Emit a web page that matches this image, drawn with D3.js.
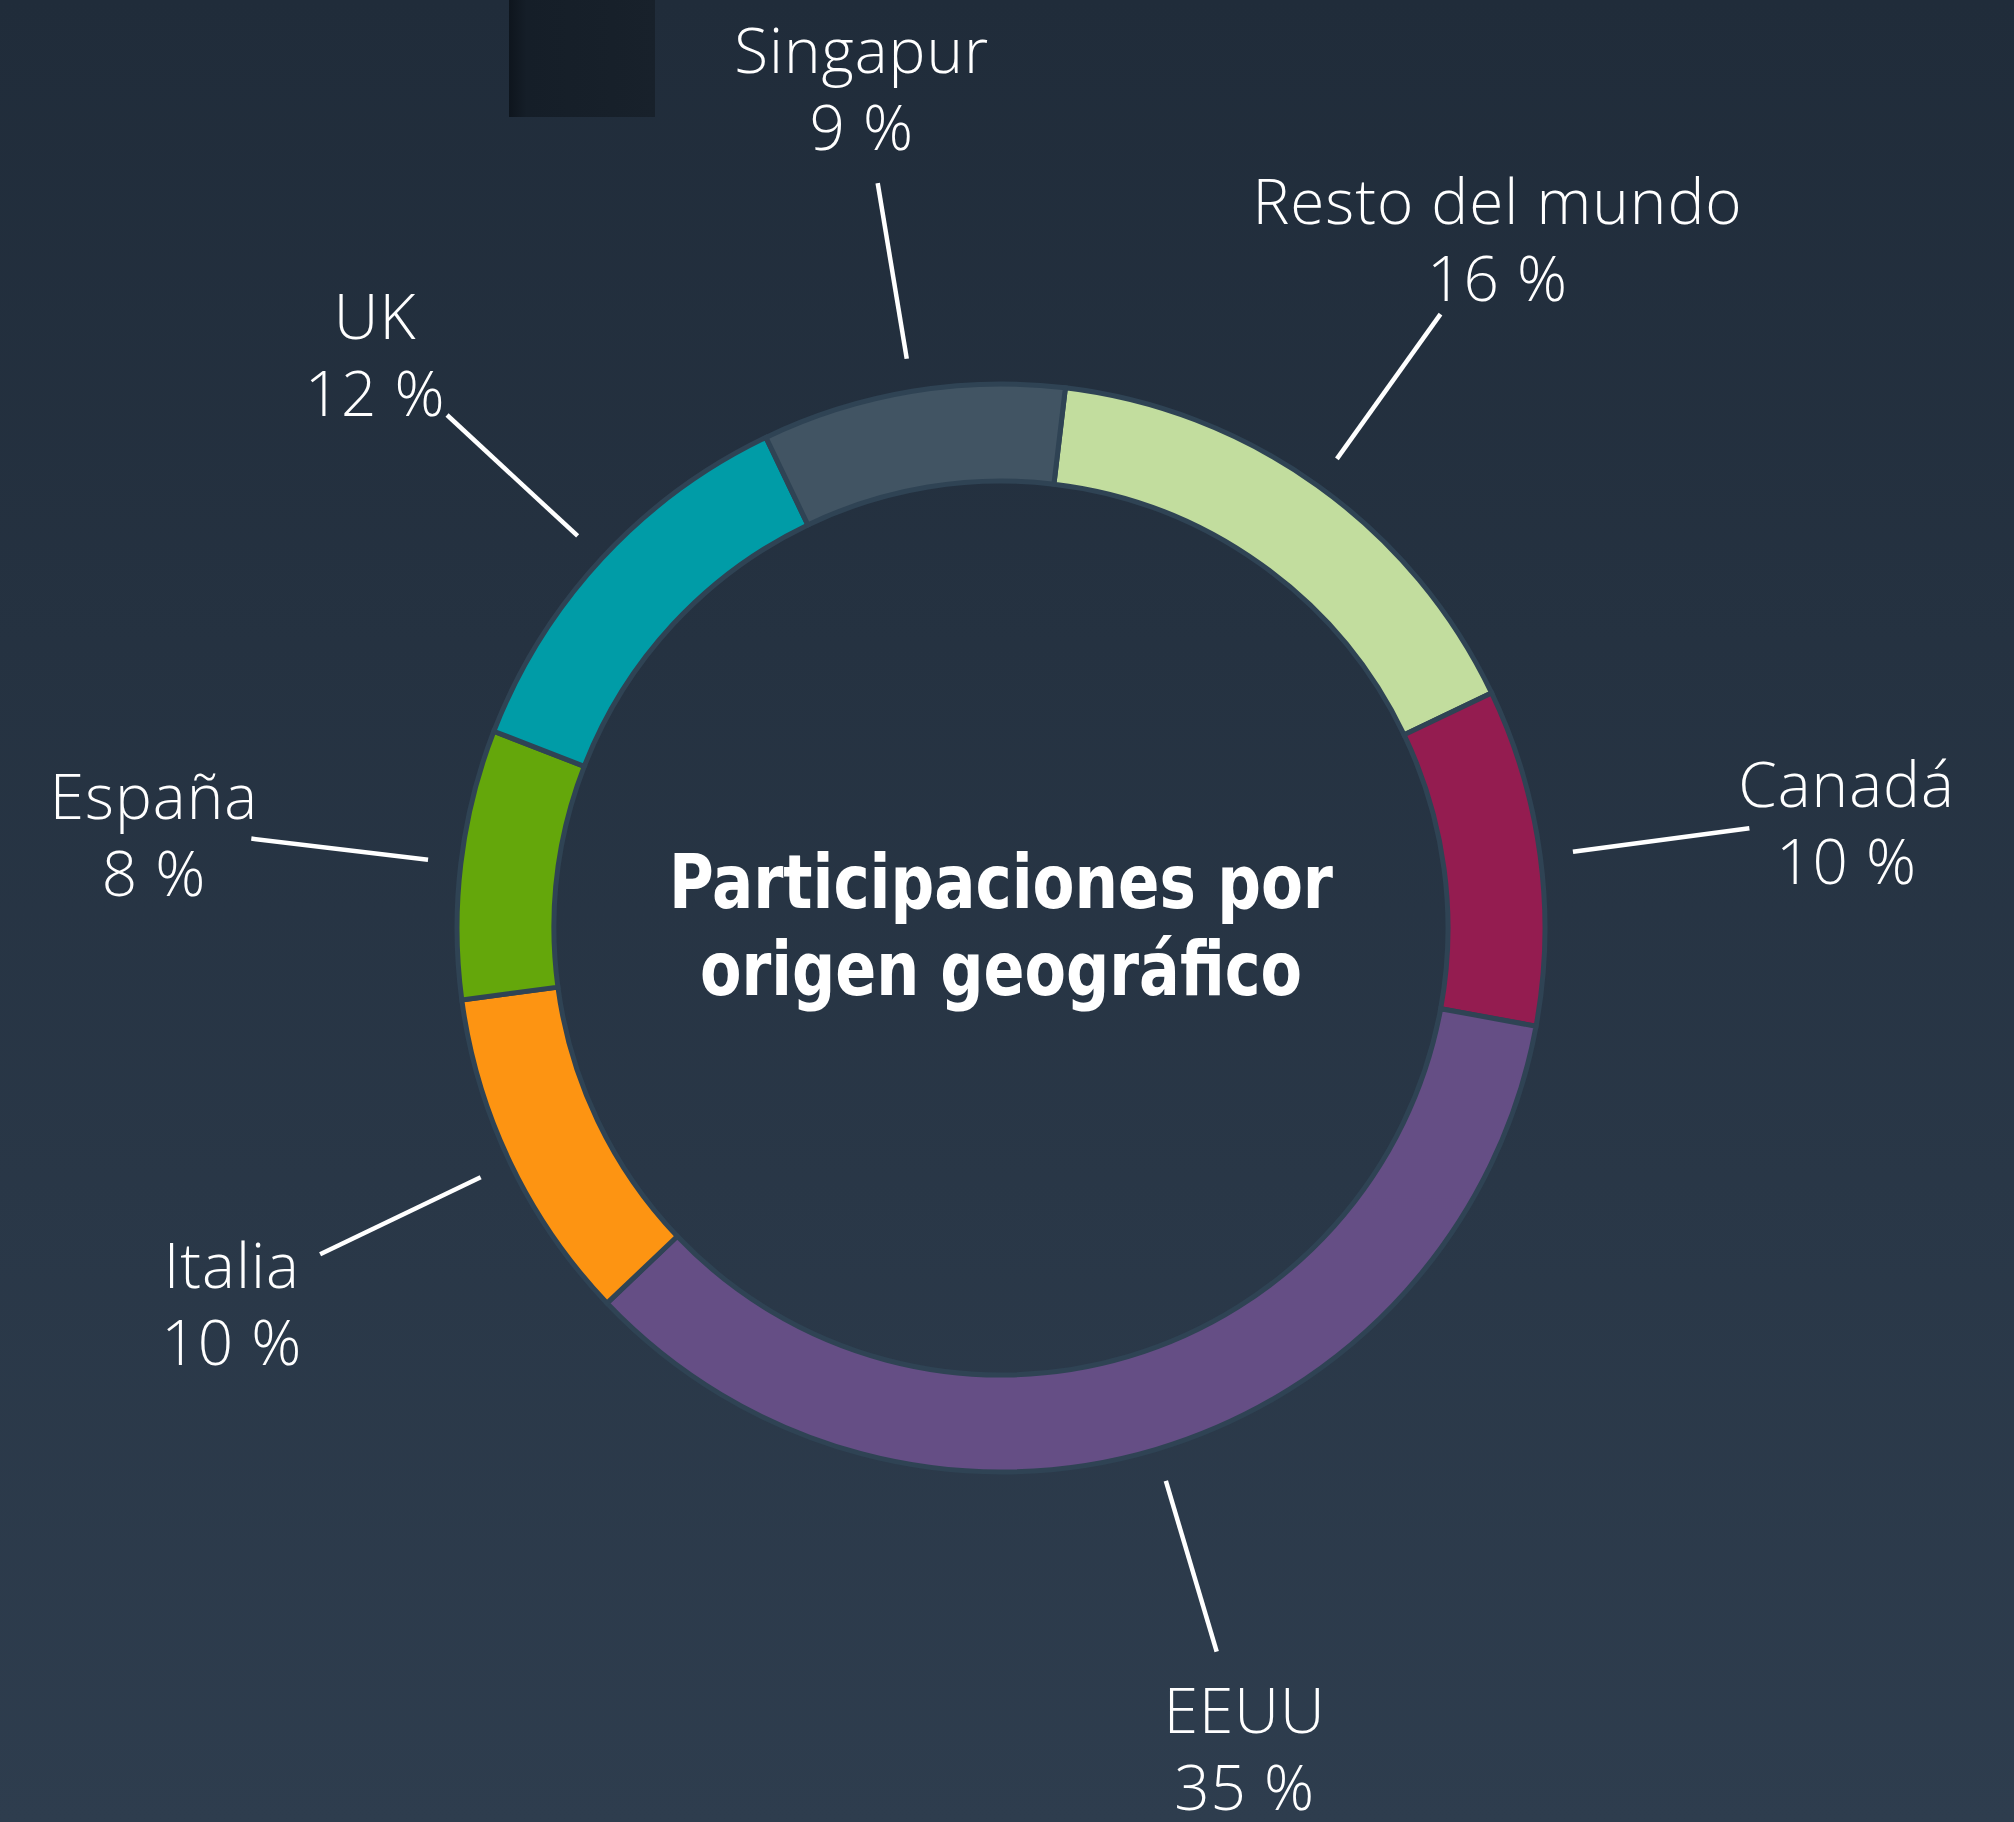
<html>
  <head>
    <script src="https://d3js.org/d3.v7.min.js"></script>
    <style>
      body { margin: 0; padding: 0; }
    </style>
  </head>
  <body>
    <script type="text/javascript">
      // input data, clockwise from the top
      var countries = ["Resto del mundo", "Canadá", "EEUU", "Italia", "España", "UK", "Singapur"];
      var shares = [16, 10, 35, 10, 8, 12, 9];
      var colors = ["#c2dd9e", "#941c50", "#654e85", "#fd9412", "#64a70b", "#009ca7", "#415463"];
      var titleLines = ["Participaciones por", "origen geográfico"];

      var width = 2014;
      var height = 1822;
      var cx = 1001, cy = 928;
      var outerR = 544, innerR = 447;

      var svg = d3.select("body").append("svg")
        .attr("width", width)
        .attr("height", height);

      // background gradient
      var defs = svg.append("defs");
      var bg = defs.append("linearGradient")
        .attr("id", "bg")
        .attr("x1", 0).attr("y1", 0).attr("x2", 0).attr("y2", 1);
      bg.append("stop").attr("offset", "0%").attr("stop-color", "#202c3a");
      bg.append("stop").attr("offset", "100%").attr("stop-color", "#2e3d4e");

      var shade = defs.append("linearGradient")
        .attr("id", "shade")
        .attr("x1", 0).attr("y1", 0).attr("x2", 1).attr("y2", 0);
      shade.append("stop").attr("offset", "0%").attr("stop-color", "#0e151d");
      shade.append("stop").attr("offset", "12%").attr("stop-color", "#151e28");
      shade.append("stop").attr("offset", "100%").attr("stop-color", "#18212b");

      svg.append("rect")
        .attr("width", width)
        .attr("height", height)
        .attr("fill", "url(#bg)");

      // dark block at the top
      svg.append("rect")
        .attr("x", 509)
        .attr("y", 0)
        .attr("width", 146)
        .attr("height", 117)
        .attr("fill", "url(#shade)");

      var startDeg = 6.8;
      var pie = d3.pie()
        .sort(null)
        .startAngle(startDeg * Math.PI / 180)
        .endAngle((startDeg + 360) * Math.PI / 180);

      var arcs = pie(shares);

      var arc = d3.arc()
        .innerRadius(innerR)
        .outerRadius(outerR);

      var chart = svg.append("g")
        .attr("transform", "translate(" + cx + ", " + cy + ")");

      chart.selectAll("path.slice")
        .data(arcs)
        .enter()
        .append("path")
        .attr("class", "slice")
        .attr("d", arc)
        .attr("fill", (d, i) => colors[i])
        .attr("stroke", "#2f4354")
        .attr("stroke-width", 5)
        .attr("stroke-linejoin", "miter");

      // leader lines and labels
      var lineInner = 577, lineOuter = 755, labelR = 853;

      arcs.forEach(function (d, i) {
        var mid = (d.startAngle + d.endAngle) / 2;
        var sx = Math.sin(mid), sy = -Math.cos(mid);

        chart.append("line")
          .attr("x1", sx * lineInner)
          .attr("y1", sy * lineInner)
          .attr("x2", sx * lineOuter)
          .attr("y2", sy * lineOuter)
          .attr("stroke", "white")
          .attr("stroke-width", 4.5);

        var lx = sx * labelR;
        var ly = sy * labelR - 14 + Math.abs(sx) * 6;

        var label = chart.append("text")
          .attr("text-anchor", "middle")
          .attr("fill", "white")
          .attr("font-family", "'Open Sans', Lato, sans-serif")
          .attr("font-weight", 300)
          .attr("letter-spacing", "1px")
          .attr("font-size", "62px");
        label.append("tspan")
          .attr("x", lx)
          .attr("y", ly)
          .text(countries[i]);
        label.append("tspan")
          .attr("x", lx)
          .attr("y", ly + 77)
          .text(shares[i] + " %");
      });

      // title in the middle
      var titleWidths = [664, 602];
      titleLines.forEach(function (t, i) {
        chart.append("text")
          .attr("x", 0)
          .attr("y", -20 + i * 87)
          .attr("text-anchor", "middle")
          .attr("fill", "white")
          .attr("font-family", "'Liberation Sans Narrow', 'DejaVu Sans Condensed', sans-serif")
          .attr("font-weight", "bold")
          .attr("font-size", "74px")
          .attr("textLength", titleWidths[i])
          .attr("lengthAdjust", "spacingAndGlyphs")
          .text(t);
      });
    </script>
  </body>
</html>
